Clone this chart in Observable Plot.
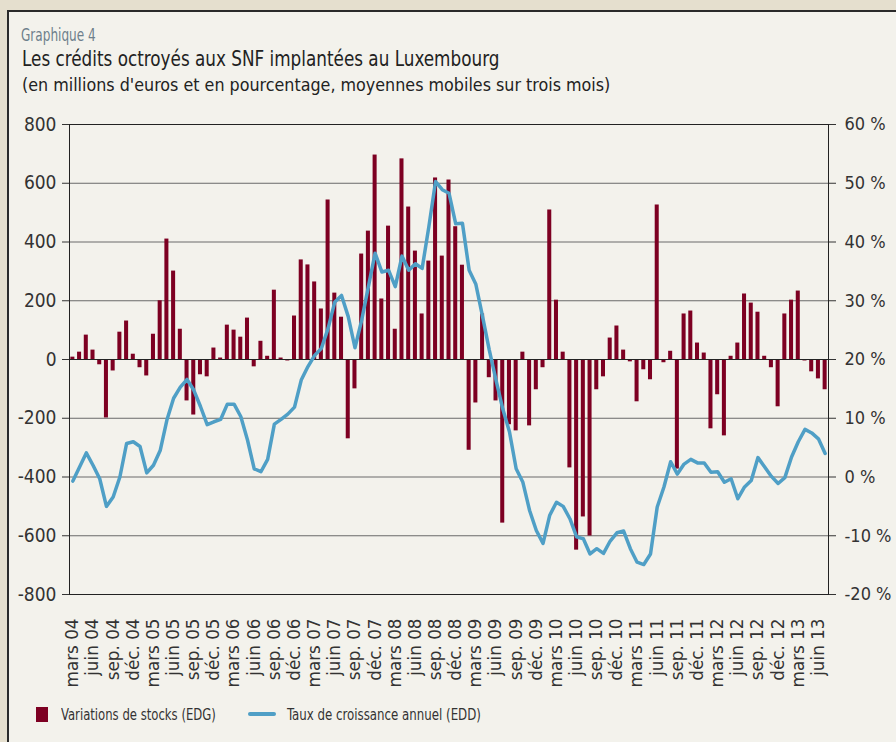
<!DOCTYPE html>
<html><head><meta charset="utf-8">
<script src="https://cdn.jsdelivr.net/npm/d3@7"></script>
<script src="https://cdn.jsdelivr.net/npm/@observablehq/plot@0.6"></script>
<style>
body{margin:0;width:896px;height:742px;overflow:hidden;background:#e5dfce;position:relative;font-family:"DejaVu Sans Condensed","DejaVu Sans",sans-serif;}
#panel{position:absolute;left:7px;top:10px;width:1000px;height:1000px;border-left:2px solid #2a2a2a;border-top:2px solid #2a2a2a;background:#f3f2ec;}
.t{position:absolute;white-space:nowrap;line-height:1;font-stretch:condensed;transform-origin:0 0;}
#chart{position:absolute;left:0;top:0;}
#chart svg{font-stretch:condensed;}
#chart svg g[aria-label="x-axis tick label"]{font-stretch:normal;}
</style></head>
<body>
<div id="panel"></div>
<div class="t" style="left:21px;top:27px;font-size:17px;color:#6d7f8b;transform:scaleX(0.79);">Graphique 4</div>
<div class="t" style="left:22px;top:48px;font-size:22px;color:#222;transform:scaleX(0.85);">Les crédits octroyés aux SNF implantées au Luxembourg</div>
<div class="t" style="left:22px;top:76px;font-size:18px;color:#222;transform:scaleX(0.985);">(en millions d'euros et en pourcentage, moyennes mobiles sur trois mois)</div>
<div id="chart"></div>
<div style="position:absolute;left:36px;top:707px;width:12px;height:15px;background:#7d0022;"></div>
<div class="t" style="left:61px;top:707px;font-size:16px;color:#333;transform:scaleX(0.81);">Variations de stocks (EDG)</div>
<div style="position:absolute;left:248px;top:712px;width:28px;height:4px;background:#4f9fc6;border-radius:2px;"></div>
<div class="t" style="left:287px;top:707px;font-size:16px;color:#333;transform:scaleX(0.82);">Taux de croissance annuel (EDD)</div>
<script>
const tickLabels = ["mars 04","juin 04","sep. 04","déc. 04","mars 05","juin 05","sep. 05","déc. 05","mars 06","juin 06","sep. 06","déc. 06","mars 07","juin 07","sep. 07","déc. 07","mars 08","juin 08","sep. 08","déc. 08","mars 09","juin 09","sep. 09","déc. 09","mars 10","juin 10","sep. 10","déc. 10","mars 11","juin 11","sep. 11","déc. 11","mars 12","juin 12","sep. 12","déc. 12","mars 13","juin 13"];
// monthly values, mars 2004 .. juillet 2013
const stocks = [8,25,83,32,-18,-199,-39,93,131,18,
-28,-56,86,200,410,301,103,-141,-189,-52,
-59,39,5,117,100,76,141,-25,62,11,
236,5,-5,148,339,322,264,172,543,226,
144,-270,-100,359,437,696,206,454,103,683,
519,369,155,335,618,352,611,452,321,-309,
-148,155,-62,-141,-557,-222,-243,25,-226,-103,
-28,509,202,25,-369,-649,-536,-601,-103,-59,
73,114,32,-8,-144,-35,-69,526,-11,28,
-373,155,165,56,22,-236,-120,-260,11,56,
223,192,161,11,-28,-161,155,202,233,-5,
-42,-66,-103];
const growth = [-0.7,1.7,4.1,2.0,-0.3,-5.0,-3.4,0.0,5.7,6.0,
5.2,0.7,2.0,4.5,9.7,13.4,15.3,16.6,14.8,12.0,
8.9,9.4,9.8,12.4,12.4,10.3,6.3,1.4,0.9,3.0,
9.0,9.8,10.7,11.9,16.5,18.8,20.7,21.9,25.3,29.8,
30.9,27.3,22.0,26.7,32.4,38.1,34.9,35.2,32.4,37.6,
35.2,36.3,35.5,42.6,50.3,48.9,48.3,43.1,43.2,35.2,
32.8,27.3,21.6,16.5,11.6,7.7,1.4,-0.9,-5.7,-9.1,
-11.3,-6.5,-4.3,-5.0,-7.1,-10.2,-10.5,-13.1,-12.2,-13.0,
-10.9,-9.5,-9.2,-12.2,-14.5,-14.9,-13.1,-5.1,-1.7,2.6,
0.5,2.2,3.0,2.4,2.4,0.8,0.9,-0.9,-0.3,-3.7,
-1.7,-0.6,3.3,1.7,0.1,-1.1,-0.1,3.4,6.0,8.1,
7.5,6.5,4.0];
const leftTicks = [-800,-600,-400,-200,0,200,400,600,800];
const rightTicks = [-20,-10,0,10,20,30,40,50,60];

const idx = stocks.map((_, i) => i);
const toLeft = p => (p - 20) * 20; // right axis (%) -> left axis units
const fromLeft = v => v / 20 + 20;
const data = idx.map(i => ({i, s: stocks[i], g: toLeft(growth[i])}));
const cond = '"DejaVu Sans Condensed","DejaVu Sans",sans-serif';

const chart = Plot.plot({
  width: 896, height: 742,
  marginLeft: 69, marginRight: 68, marginTop: 124, marginBottom: 148,
  style: {background: "transparent", color: "#333", overflow: "visible"},
  x: {type: "band", domain: idx, paddingInner: 0.4, paddingOuter: 0.2},
  y: {domain: [-800, 800]},
  marks: [
    Plot.ruleY(leftTicks, {stroke: "#6a6a6a", strokeWidth: 1}),
    Plot.barY(data, {x: "i", y: "s", fill: "#7d0022"}),
    Plot.ruleY([0], {stroke: "#222", strokeWidth: 1}),
    Plot.lineY(data, {x: "i", y: "g", stroke: "#4f9fc6", strokeWidth: 3.5, strokeLinejoin: "round", strokeLinecap: "round"}),
    Plot.frame({stroke: "#222"}),
    Plot.axisY({anchor: "left", ticks: leftTicks, tickFormat: d => String(d), tickSize: 7, tickPadding: 6, fontSize: 19, fontFamily: cond, label: null}),
    Plot.axisY({anchor: "right", ticks: rightTicks.map(toLeft), tickFormat: d => `${fromLeft(d)} %`, tickSize: 7, tickPadding: 9, fontSize: 18, fontFamily: cond, label: null}),
    Plot.axisX({ticks: idx.filter(i => i % 3 === 0), tickFormat: i => tickLabels[i / 3], tickRotate: -90, tickSize: 0, tickPadding: 24, fontSize: 16.8, fontFamily: "DejaVu Sans", label: null})
  ]
});
document.getElementById("chart").appendChild(chart);
</script>
</body></html>
